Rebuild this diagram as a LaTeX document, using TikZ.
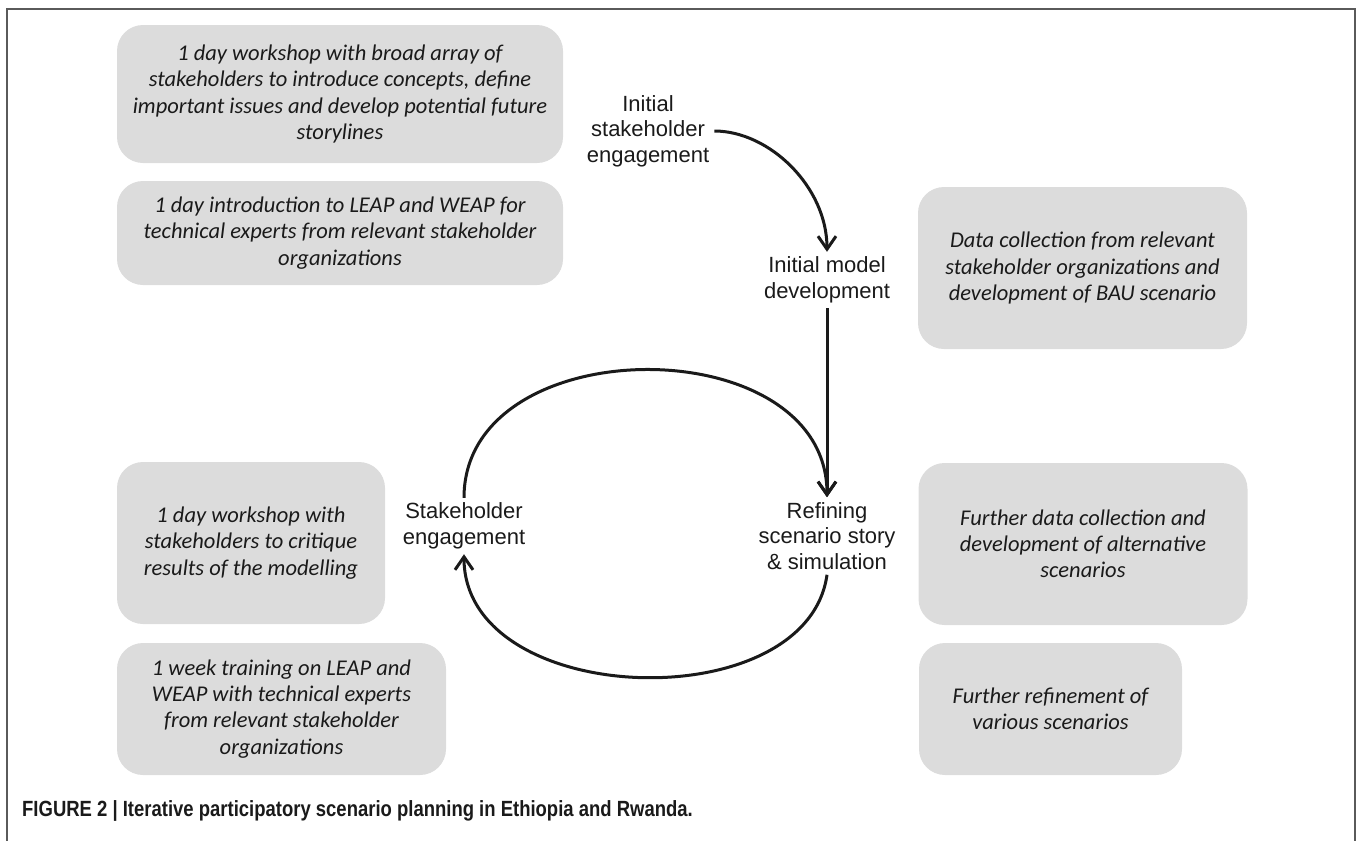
\documentclass[tikz,border=0pt]{standalone}
\usepackage{fontspec}
\setmainfont{Carlito}
\newfontfamily\arialfont{Liberation Sans}
\newfontfamily\capfont[FakeStretch=0.84]{Liberation Sans}
\usetikzlibrary{arrows.meta}
\definecolor{boxgray}{HTML}{DCDCDC}
\definecolor{inkcol}{HTML}{1A1A1A}
\definecolor{framecol}{HTML}{5A5A5A}
\tikzset{
  infobox/.style={rectangle, rounded corners=26pt, fill=boxgray, draw=none,
    align=center, inner sep=0pt, text=inkcol,
    font=\fontsize{22.5}{26.2}\selectfont\itshape,
    execute at begin node={\rule{0pt}{28pt}}},
  stagelabel/.style={align=center, inner sep=5pt, text=inkcol,
    font=\arialfont\fontsize{22}{25.5}\selectfont},
  flow/.style={line width=3pt, inkcol, -{Straight Barb[length=13pt,width=18pt]}},
}
\begin{document}
\begin{tikzpicture}[x=1pt,y=-1pt]
\useasboundingbox (0,0) rectangle (1358,841);
% frame
\draw[framecol, line width=2pt] (7,841) -- (7,9) -- (1355,9) -- (1355,841);

% boxes left
\node[infobox, minimum width=446pt, minimum height=138pt] (bA) at (340,94)
  {1 day workshop with broad array of\\stakeholders to introduce concepts, define\\important issues and develop potential future\\storylines};
\node[infobox, minimum width=446pt, minimum height=104pt] (bB) at (340,233)
  {1 day introduction to LEAP and WEAP for\\technical experts from relevant stakeholder\\organizations};
\node[infobox, minimum width=268pt, minimum height=162pt] (bF) at (251,543)
  {1 day workshop with\\stakeholders to critique\\results of the modelling};
\node[infobox, minimum width=329pt, minimum height=132pt] (bG) at (281.5,709)
  {1 week training on LEAP and\\WEAP with technical experts\\from relevant stakeholder\\organizations};

% boxes right
\node[infobox, minimum width=329pt, minimum height=162pt] (bC) at (1082.5,268)
  {Data collection from relevant\\stakeholder organizations and\\development of BAU scenario};
\node[infobox, minimum width=329pt, minimum height=162pt] (bD) at (1083,544)
  {Further data collection and\\development of alternative\\scenarios};
\node[infobox, minimum width=263pt, minimum height=132pt] (bE) at (1050.5,709)
  {Further refinement of\\various scenarios};

% stage labels
\node[stagelabel] (isl) at (648,131) {Initial\\stakeholder\\engagement};
\node[stagelabel] (imd) at (827,280) {Initial model\\development};
\node[stagelabel] (ref) at (827,536) {Refining\\scenario story\\\& simulation};
\node[stagelabel] (se) at (464,526) {Stakeholder\\engagement};

% connectors
\draw[flow] (isl.east) .. controls +(55,0) and +(0,-65) .. (imd.north);
\draw[flow] (imd.south) -- (ref.north);
\draw[flow] (se.north) .. controls +(0,-170) and +(0,-170) .. (ref.north);
\draw[flow] (ref.south) .. controls +(-20,145) and +(0,155) .. (se.south);

% caption
\node[anchor=base west, inner sep=0pt, text=inkcol,
  font=\capfont\bfseries\fontsize{22}{26}\selectfont] (cap) at (22,816)
  {FIGURE 2 | Iterative participatory scenario planning in Ethiopia and Rwanda.};
\end{tikzpicture}
\end{document}
